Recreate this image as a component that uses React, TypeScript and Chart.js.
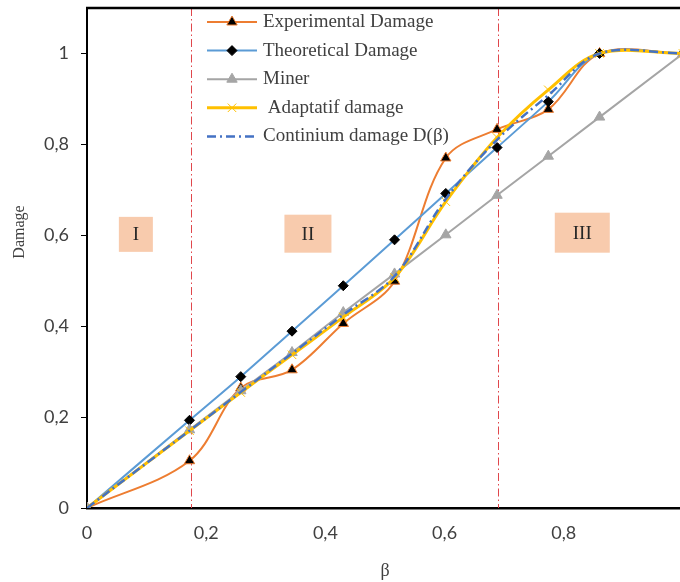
import React, { useEffect, useRef } from 'react';
import { Chart, registerables } from 'chart.js';

Chart.register(...registerables);

// ---- Data ----
const beta = [0, 0.172, 0.258, 0.344, 0.43, 0.516, 0.602, 0.688, 0.774, 0.86, 1.0];
const experimentalDamage = [0, 0.104, 0.264, 0.304, 0.406, 0.499, 0.77, 0.833, 0.877, 1.0, 1.0];
const theoreticalDamage = [0, 0.193, 0.289, 0.389, 0.489, 0.59, 0.692, 0.793, 0.894, 1.0, 1.0];
const minerDamage = [0, 0.172, 0.258, 0.342, 0.43, 0.515, 0.601, 0.688, 0.774, 0.86, 1.0];
const adaptatifDamage = [0, 0.17, 0.254, 0.337, 0.42, 0.507, 0.674, 0.815, 0.92, 1.0, 1.0];
const continuumDamage = [0, 0.17, 0.255, 0.34, 0.425, 0.51, 0.68, 0.81, 0.908, 1.0, 1.0];

const seriesNames = [
  'Experimental Damage',
  'Theoretical Damage',
  'Miner',
  ' Adaptatif damage',
  'Continium damage D(\u03B2)',
];

const xTickValues = [0, 0.2, 0.4, 0.6, 0.8];
const xTickLabels = ['0', '0,2', '0,4', '0,6', '0,8'];
const yTickValues = [0, 0.2, 0.4, 0.6, 0.8, 1];
const yTickLabels = ['0', '0,2', '0,4', '0,6', '0,8', '1'];

const regionBoundaries = [0.174, 0.69];
const regionLabels = ['I', 'II', 'III'];

const xAxisTitle = '\u03B2';
const yAxisTitle = 'Damage';

const SERIF = '"Liberation Serif", "DejaVu Serif", serif';
const SANS = 'Lato, "Open Sans", sans-serif';
const TEXT = '#404040';

function drawMarker(ctx: CanvasRenderingContext2D, style: string, x: number, y: number, r: number, fill: string, stroke: string, lw: number) {
  ctx.save();
  ctx.beginPath();
  ctx.lineWidth = lw;
  ctx.fillStyle = fill;
  ctx.strokeStyle = stroke;
  if (style === 'triangle') {
    for (let k = 0; k < 3; k++) {
      const a = (k * 2 * Math.PI) / 3;
      const px = x + Math.sin(a) * r;
      const py = y - Math.cos(a) * r;
      if (k === 0) ctx.moveTo(px, py);
      else ctx.lineTo(px, py);
    }
    ctx.closePath();
    ctx.fill();
    if (lw > 0) ctx.stroke();
  } else if (style === 'rectRot') {
    ctx.moveTo(x, y - r);
    ctx.lineTo(x + r, y);
    ctx.lineTo(x, y + r);
    ctx.lineTo(x - r, y);
    ctx.closePath();
    ctx.fill();
    if (lw > 0) ctx.stroke();
  } else if (style === 'crossRot') {
    const d = r * Math.SQRT1_2;
    ctx.moveTo(x - d, y - d);
    ctx.lineTo(x + d, y + d);
    ctx.moveTo(x + d, y - d);
    ctx.lineTo(x - d, y + d);
    ctx.stroke();
  }
  ctx.restore();
}

const decorPlugin = {
  id: 'decor',
  beforeDatasetsDraw(chart: any) {
    const { ctx, chartArea, scales } = chart;
    const xs = scales.x;
    const ys = scales.y;
    // region boxes
    const boxes = [
      { cx: 0.082, cy: 0.602, w: 34, h: 35 },
      { cx: 0.3707, cy: 0.6035, w: 47, h: 38 },
      { cx: 0.831, cy: 0.6057, w: 55, h: 40 },
    ];
    ctx.save();
    boxes.forEach((b, i) => {
      const px = xs.getPixelForValue(b.cx);
      const py = ys.getPixelForValue(b.cy);
      ctx.fillStyle = '#F8CBAD';
      ctx.fillRect(px - b.w / 2, py - b.h / 2, b.w, b.h);
      ctx.fillStyle = '#262626';
      ctx.font = `19px ${SERIF}`;
      ctx.textAlign = 'center';
      ctx.textBaseline = 'middle';
      ctx.fillText(regionLabels[i], px, py + 1);
    });
    // vertical boundary lines
    ctx.strokeStyle = '#E0474C';
    ctx.lineWidth = 1;
    ctx.setLineDash([8, 3, 1.5, 3]);
    regionBoundaries.forEach((v) => {
      const px = Math.round(xs.getPixelForValue(v)) + 0.5;
      ctx.beginPath();
      ctx.moveTo(px, chartArea.top);
      ctx.lineTo(px, chartArea.bottom);
      ctx.stroke();
    });
    ctx.restore();
  },
  afterDraw(chart: any) {
    const { ctx, chartArea, data } = chart;
    ctx.save();
    // top border
    ctx.strokeStyle = '#000';
    ctx.lineWidth = 2.5;
    ctx.beginPath();
    ctx.moveTo(chartArea.left - 1, chartArea.top);
    ctx.lineTo(chartArea.right, chartArea.top);
    ctx.stroke();
    // y title
    ctx.save();
    ctx.translate(20, 232);
    ctx.rotate(-Math.PI / 2);
    ctx.font = `16px ${SERIF}`;
    ctx.fillStyle = TEXT;
    ctx.textAlign = 'center';
    ctx.textBaseline = 'middle';
    ctx.fillText(yAxisTitle, 0, 0);
    ctx.restore();
    // legend
    data.datasets.forEach((ds: any, i: number) => {
      const y = 22 + i * 28.6;
      ctx.save();
      ctx.strokeStyle = ds.borderColor;
      ctx.lineWidth = ds.borderWidth;
      ctx.setLineDash(ds.borderDash || []);
      ctx.beginPath();
      ctx.moveTo(207, y);
      ctx.lineTo(257, y);
      ctx.stroke();
      ctx.restore();
      if (ds.pointRadius > 0) {
        drawMarker(ctx, ds.pointStyle, 232, y, ds.pointRadius, ds.pointBackgroundColor, ds.pointBorderColor, ds.pointBorderWidth);
      }
      ctx.font = `19px ${SERIF}`;
      ctx.fillStyle = TEXT;
      ctx.textAlign = 'left';
      ctx.textBaseline = 'middle';
      ctx.fillText(ds.label, 263, y);
    });
    ctx.restore();
  },
};

export default function App() {
  const ref = useRef<HTMLCanvasElement>(null);

  useEffect(() => {
    const canvas = ref.current;
    if (!canvas) return;
    const pts = (ys: number[]) => beta.map((x, i) => ({ x, y: ys[i] }));
    const tension = 0.35;
    const chart = new Chart(canvas, {
      type: 'line',
      data: {
        datasets: [
          {
            label: seriesNames[0],
            data: pts(experimentalDamage),
            borderColor: '#ED7D31',
            borderWidth: 2,
            tension,
            pointStyle: 'triangle',
            pointRadius: 6,
            pointBackgroundColor: '#000',
            pointBorderColor: '#ED7D31',
            pointBorderWidth: 1,
            order: 4,
          },
          {
            label: seriesNames[1],
            data: pts(theoreticalDamage),
            borderColor: '#5B9BD5',
            borderWidth: 2,
            tension,
            pointStyle: 'rectRot',
            pointRadius: 5,
            pointBackgroundColor: '#000',
            pointBorderColor: '#000',
            pointBorderWidth: 1,
            order: 3,
          },
          {
            label: seriesNames[2],
            data: pts(minerDamage),
            borderColor: '#A5A5A5',
            borderWidth: 2,
            tension: 0,
            pointStyle: 'triangle',
            pointRadius: 6,
            pointBackgroundColor: '#A5A5A5',
            pointBorderColor: '#A5A5A5',
            pointBorderWidth: 1,
            order: 2,
          },
          {
            label: seriesNames[3],
            data: pts(adaptatifDamage),
            borderColor: '#FFC000',
            borderWidth: 3,
            tension,
            pointStyle: 'crossRot',
            pointRadius: 6,
            pointBackgroundColor: '#FFC000',
            pointBorderColor: '#FFC000',
            pointBorderWidth: 1,
            order: 1,
          },
          {
            label: seriesNames[4],
            data: pts(continuumDamage),
            borderColor: '#4472C4',
            borderWidth: 2.5,
            borderDash: [9, 4, 2, 4],
            tension,
            pointRadius: 0,
            order: 0,
          },
        ] as any,
      },
      options: {
        animation: false,
        responsive: false,
        maintainAspectRatio: false,
        layout: { padding: { top: 8, right: 5.5, left: 0, bottom: 0 } },
        plugins: {
          legend: { display: false },
          tooltip: { enabled: false },
        },
        scales: {
          x: {
            type: 'linear',
            min: 0,
            max: 1,
            afterBuildTicks: (s: any) => {
              s.ticks = xTickValues.map((v) => ({ value: v }));
            },
            afterFit: (s: any) => {
              s.height = 74;
              s.paddingLeft = 0;
              s.paddingRight = 0;
            },
            grid: { drawOnChartArea: false, drawTicks: false },
            border: { display: true, color: '#000', width: 2.5 },
            ticks: {
              padding: 14,
              color: TEXT,
              font: { family: SANS, size: 18 },
              maxRotation: 0,
              autoSkip: false,
              callback: (_v: any, i: number) => xTickLabels[i],
            },
            title: {
              display: true,
              text: xAxisTitle,
              color: TEXT,
              font: { family: SERIF, size: 18 },
              padding: { top: 0, bottom: 0 },
            },
          },
          y: {
            type: 'linear',
            min: 0,
            max: 1.1,
            afterBuildTicks: (s: any) => {
              s.ticks = yTickValues.map((v) => ({ value: v }));
            },
            afterFit: (s: any) => {
              s.width = 87;
              s.paddingTop = 0;
              s.paddingBottom = 0;
            },
            grid: { drawOnChartArea: false, drawTicks: true, tickLength: 6, color: '#000', lineWidth: 1 },
            border: { display: true, color: '#000', width: 2 },
            ticks: {
              padding: 12,
              color: TEXT,
              font: { family: SANS, size: 18 },
              autoSkip: false,
              callback: (_v: any, i: number) => yTickLabels[i],
            },
          },
        },
      } as any,
      plugins: [decorPlugin],
    });
    return () => chart.destroy();
  }, []);

  return (
    <div
      style={{
        position: 'fixed',
        left: 0,
        top: 0,
        width: 680,
        height: 582,
        overflow: 'hidden',
        background: '#fff',
      }}
    >
      <canvas ref={ref} width={690} height={582} style={{ display: 'block', width: 690, height: 582 }} />
    </div>
  );
}
